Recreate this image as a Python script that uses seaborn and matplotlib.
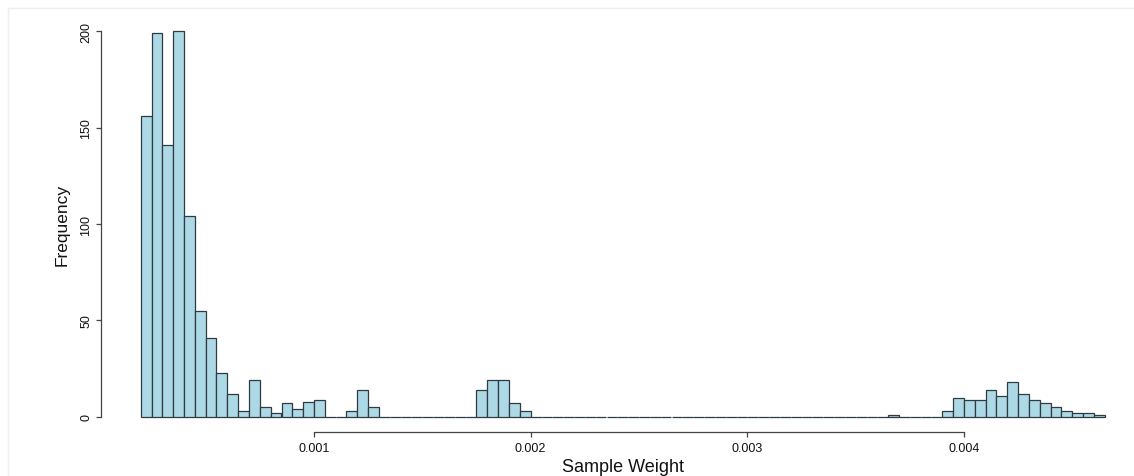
"""
Sample weight histogram, drawn in the style of an R base-graphics hist().
"""

import numpy as np
import matplotlib
matplotlib.use("Agg")
import matplotlib.pyplot as plt
from matplotlib.lines import Line2D
import seaborn as sns

# left edge of every non-empty bin and its count (empty bins are implied)
bin_lefts = [
    0.0002, 0.00025, 0.0003, 0.00035, 0.0004, 0.00045, 0.0005, 0.00055,
    0.0006, 0.00065, 0.0007, 0.00075, 0.0008, 0.00085, 0.0009, 0.00095, 0.001,
    0.00115, 0.0012, 0.00125,
    0.00175, 0.0018, 0.00185, 0.0019, 0.00195,
    0.00365,
    0.0039, 0.00395, 0.004, 0.00405, 0.0041, 0.00415, 0.0042, 0.00425,
    0.0043, 0.00435, 0.0044, 0.00445, 0.0045, 0.00455, 0.0046,
]
counts = [
    156, 199, 141, 200, 104, 55, 41, 23,
    12, 3, 19, 5, 2, 7, 4, 8, 9,
    3, 14, 5,
    14, 19, 19, 7, 3,
    1,
    3, 10, 9, 9, 14, 11, 18, 12,
    9, 7, 5, 3, 2, 2, 1,
]
bin_width = 0.00005
first_edge = 0.0002
last_edge = 0.00465

x_ticks = [0.001, 0.002, 0.003, 0.004]
x_tick_labels = ["0.001", "0.002", "0.003", "0.004"]
y_ticks = [0, 50, 100, 150, 200]
y_tick_labels = ["0", "50", "100", "150", "200"]

sns.set_style("white")
plt.rcParams["font.family"] = ["Liberation Sans", "DejaVu Sans"]

W, H = 1134, 477
fig = plt.figure(figsize=(W / 100, H / 100), dpi=100)
fig.patch.set_facecolor("white")

# plot region in pixels: left 101, right edge of image, top 16.6, bottom 433.4
ax_left, ax_top, ax_bottom = 101, 16.6, 433.4
ax_w, ax_h = W - ax_left, ax_bottom - ax_top
ax = fig.add_axes([ax_left / W, (H - ax_bottom) / H, ax_w / W, ax_h / H])
ax.set_facecolor("white")

n_bins = int(round((last_edge - first_edge) / bin_width))
edges = list(np.linspace(first_edge, last_edge, n_bins + 1))
centers = np.array(bin_lefts) + bin_width / 2

sns.histplot(
    x=centers,
    weights=counts,
    bins=edges,
    color="#ADD8E6",
    edgecolor="#2e3b40",
    linewidth=0.9,
    alpha=1,
    ax=ax,
)

# pixel scale: 0.001 -> x=314, 0.004 -> x=964
px_per_unit = (964 - 314) / 0.003
ax.set_xlim(0.001 - (314 - ax_left) / px_per_unit, 0.001 + (W - 314) / px_per_unit)
ax.set_ylim(-8, 208)

for side in ["top", "right"]:
    ax.spines[side].set_visible(False)
for side in ["left", "bottom"]:
    ax.spines[side].set_color("#444444")
    ax.spines[side].set_linewidth(0.9)
ax.spines["left"].set_bounds(0, 200)
ax.spines["bottom"].set_bounds(0.001, 0.004)

ax.set_xticks(x_ticks)
ax.set_xticklabels(x_tick_labels)
ax.set_yticks(y_ticks)
ax.set_yticklabels(y_tick_labels, rotation=90, va="center")
ax.tick_params(axis="both", direction="out", length=3.3, width=0.9,
               color="#444444", labelsize=9, labelcolor="#111111",
               bottom=True, left=True)
ax.tick_params(axis="x", pad=3.6)
ax.tick_params(axis="y", pad=3.0)

ax.set_xlabel("Sample Weight", fontsize=13, color="#111111")
ax.set_ylabel("Frequency", fontsize=12.5, color="#111111")
ax.xaxis.set_label_coords((623 - ax_left) / ax_w, -(471.7 - ax_bottom) / ax_h)
ax.xaxis.label.set_va("baseline")
ax.yaxis.set_label_coords(-(ax_left - 66.7) / ax_w, (ax_bottom - 225) / ax_h)
ax.yaxis.label.set_va("baseline")

# faint frame around the original screenshot
fig.add_artist(Line2D([8 / W, 1], [1 - 9 / H, 1 - 9 / H], transform=fig.transFigure,
                      color="#eaf1f1", linewidth=1))
fig.add_artist(Line2D([8 / W, 8 / W], [0, 1 - 9 / H], transform=fig.transFigure,
                      color="#eaf1f1", linewidth=1))

fig.savefig("out.png", dpi=100, facecolor=fig.get_facecolor())
plt.close(fig)
